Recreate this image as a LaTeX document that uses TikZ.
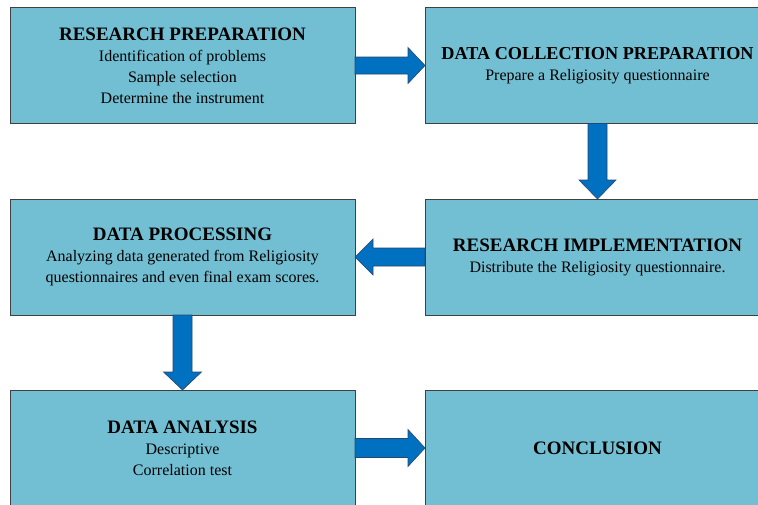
\documentclass[tikz,border=0pt]{standalone}
\usepackage{fontspec}
\setmainfont{Liberation Serif}
\usetikzlibrary{calc}

\definecolor{stepfill}{RGB}{114,191,211}
\definecolor{stepline}{RGB}{64,64,64}
\definecolor{arrowfill}{RGB}{0,112,192}
\definecolor{arrowline}{RGB}{40,70,110}

\newcommand{\steptitle}[2][19]{{\fontsize{#1}{22}\selectfont\bfseries #2}}

\begin{document}
\begin{tikzpicture}[x=1pt, y=-1pt,
  stepbox/.style={draw=stepline, line width=0.8pt, fill=stepfill, minimum width=345pt, minimum height=116pt, inner sep=0pt, outer sep=0pt, align=center, font=\fontsize{16}{21}\selectfont},
  blockarrow/.style={draw=arrowline, line width=0.6pt, fill=arrowfill, line join=miter}]

\useasboundingbox (0,0) rectangle (758,504);
\clip (0,0) rectangle (758,504);

\node (prep)  at (182.5, 65.5) [stepbox] {\steptitle{RESEARCH PREPARATION}\\Identification of problems\\Sample selection\\Determine the instrument};
\node (dcp)   at (597.5, 65.5) [stepbox] {\steptitle[18.2]{DATA COLLECTION PREPARATION}\\Prepare a Religiosity questionnaire};
\node (impl)  at (597.5, 257)  [stepbox] {\steptitle{RESEARCH IMPLEMENTATION}\\Distribute the Religiosity questionnaire.};
\node (proc)  at (182.5, 257)  [stepbox] {\steptitle{DATA PROCESSING}\\Analyzing data generated from Religiosity\\questionnaires and even final exam scores.};
\node (anal)  at (182.5, 448)  [stepbox] {\steptitle{DATA ANALYSIS}\\Descriptive\\Correlation test};
\node (concl) at (597.5, 448)  [stepbox] {\steptitle{CONCLUSION}};

\draw[blockarrow] ($(prep.east)+(0,-8.5)$) -- ++(53,0) -- ++(0,-9.5) -- (dcp.west) -- ++(-17,18) -- ++(0,-9.5) -- ++(-53,0) -- cycle;
\draw[blockarrow] ($(dcp.south)+(-9.5,0)$) -- ++(0,56.5) -- ++(-9,0) -- (impl.north) -- ++(18.5,-19) -- ++(-9,0) -- ++(0,-56.5) -- cycle;
\draw[blockarrow] ($(impl.west)+(0,-9)$) -- ++(-52,0) -- ++(0,-9) -- (proc.east) -- ++(18,18) -- ++(0,-9) -- ++(52,0) -- cycle;
\draw[blockarrow] ($(proc.south)+(-9.5,0)$) -- ++(0,57) -- ++(-9.5,0) -- (anal.north) -- ++(19,-18) -- ++(-9.5,0) -- ++(0,-57) -- cycle;
\draw[blockarrow] ($(anal.east)+(0,-9.5)$) -- ++(53,0) -- ++(0,-9) -- (concl.west) -- ++(-17,18.5) -- ++(0,-9) -- ++(-53,0) -- cycle;

\end{tikzpicture}
\end{document}
